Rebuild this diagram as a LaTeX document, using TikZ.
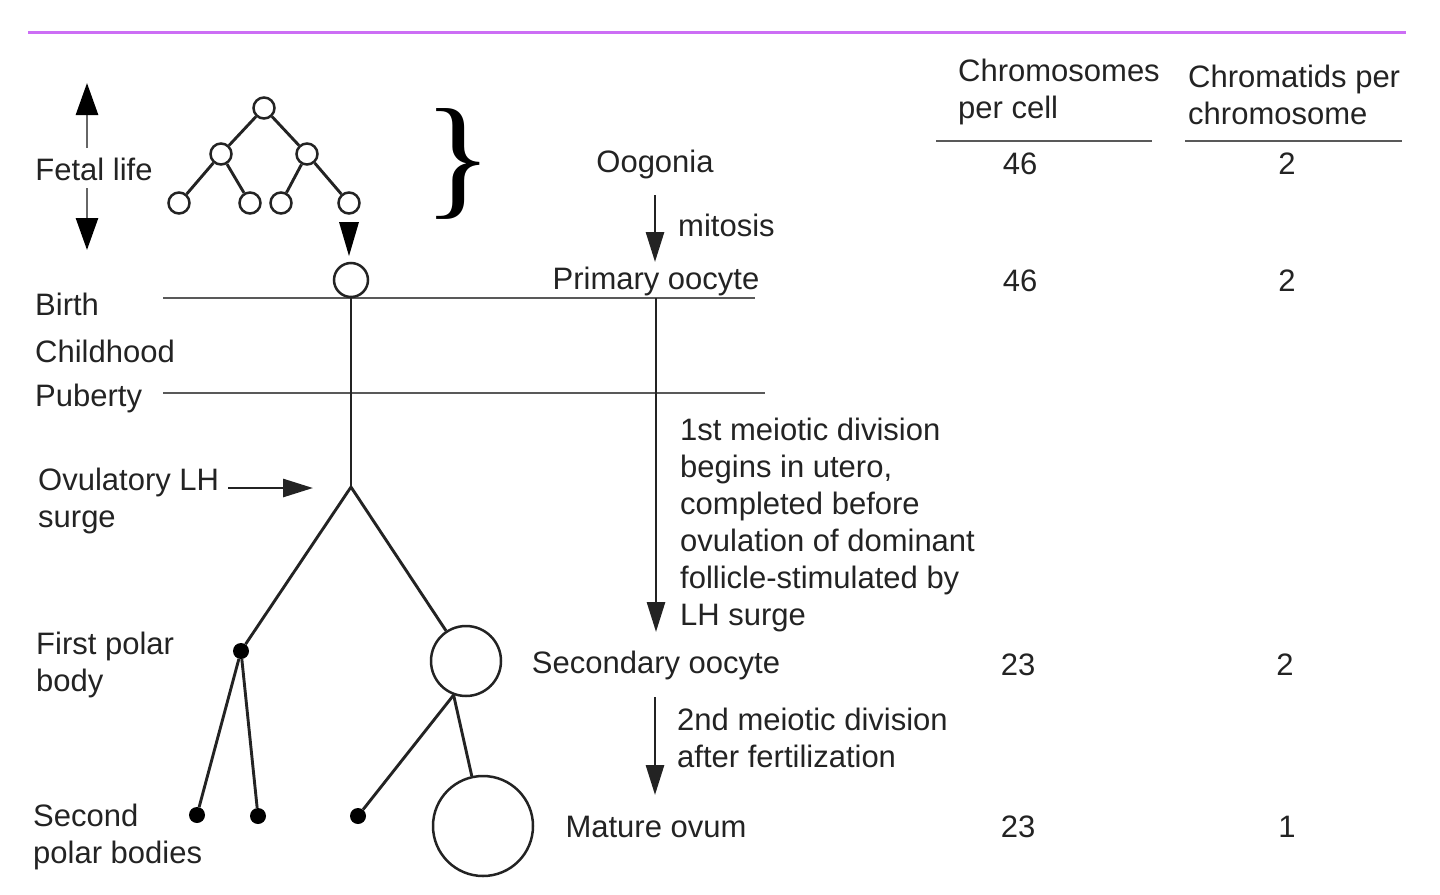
\documentclass[tikz,border=0pt]{standalone}
\usepackage{fontspec}
\setmainfont{Liberation Sans}
\newfontfamily\bracefont{Liberation Serif}
\usetikzlibrary{arrows.meta}
\definecolor{violetline}{RGB}{204,110,245}
\definecolor{ink}{RGB}{35,35,35}
\begin{document}
\begin{tikzpicture}[x=1pt,y=-1pt,
  txt/.style={font=\fontsize{31}{37}\selectfont, text=ink, inner sep=0pt, align=left},
  ln/.style={line width=2.9pt, draw=ink},
  hl/.style={line width=2.8pt, draw=black!65},
  cell/.style={circle, draw=ink, line width=2.5pt, inner sep=0pt, minimum size=#1},
  dot/.style={circle, fill=black, inner sep=0pt, minimum size=16pt},
  arr/.style={line width=2.8pt, draw=ink, -{Triangle[length=30pt,width=18pt]}},
  bigarr/.style={line width=2.8pt, draw=black!60, -{Triangle[length=32pt,width=22pt,fill=black,color=black]}},
]
\useasboundingbox (0,0) rectangle (1440,894);
\draw[line width=3pt, draw=violetline] (28,32) -- (1406,32);

% column headers
\node[txt, anchor=west] (h1) at (958,92) {Chromosomes\\per cell};
\node[txt, anchor=west] (h2) at (1188,95) {Chromatids per\\chromosome};
\coordinate (u1a) at (936,141); \coordinate (u1b) at (1152,141);
\coordinate (u2a) at (1185,141); \coordinate (u2b) at (1402,141);
\draw[hl] (u1a) -- (u1b);
\draw[hl] (u2a) -- (u2b);

% values
\node[txt] (v11) at (1020,164) {46};
\node[txt] (v12) at (1287,164) {2};
\node[txt] (v21) at (1020,281) {46};
\node[txt] (v22) at (1287,281) {2};
\node[txt] (v31) at (1018,665) {23};
\node[txt] (v32) at (1285,665) {2};
\node[txt] (v41) at (1018,827) {23};
\node[txt] (v42) at (1287,827) {1};

% left labels
\node[txt] (fl) at (94,169) {Fetal life};
\coordinate (fu0) at (87,148); \coordinate (fu1) at (87,83);
\coordinate (fd0) at (87,188); \coordinate (fd1) at (87,250);
\draw[bigarr] (fu0) -- (fu1);
\draw[bigarr] (fd0) -- (fd1);
\node[txt, anchor=west] (birth) at (35,304) {Birth};
\node[txt, anchor=west] (child) at (35,351) {Childhood};
\node[txt, anchor=west] (pub) at (35,398) {Puberty};
\node[txt, anchor=west] (lh) at (38,501) {Ovulatory LH\\surge};
\node[txt, anchor=west] (fpbl) at (36,665) {First polar\\body};
\node[txt, anchor=west] (spbl) at (33,837) {Second\\polar bodies};

% fetal tree
\node[cell=21pt] (t1) at (264,108) {};
\node[cell=21pt] (t2a) at (221,154) {};
\node[cell=21pt] (t2b) at (307,154) {};
\node[cell=21pt] (t3a) at (179,203) {};
\node[cell=21pt] (t3b) at (250,203) {};
\node[cell=21pt] (t3c) at (281,203) {};
\node[cell=21pt] (t3d) at (349,203) {};
\draw[ln] (t1) -- (t2a); \draw[ln] (t1) -- (t2b);
\draw[ln] (t2a) -- (t3a); \draw[ln] (t2a) -- (t3b);
\draw[ln] (t2b) -- (t3c); \draw[ln] (t2b) -- (t3d);
\fill[black] (339,222) -- (359,222) -- (349,256) -- cycle;

% brace
\node[inner sep=0pt, font=\bracefont\fontsize{134}{134}\selectfont, xscale=1.08] (brace) at (458,164) {\}};

% timeline lines
\coordinate (b0) at (163,298); \coordinate (b1) at (755,298);
\coordinate (p0) at (163,393); \coordinate (p1) at (765,393);
\draw[hl] (b0) -- (b1);
\draw[hl] (p0) -- (p1);

% cells
\node[cell=34pt] (po) at (351,280) {};
\coordinate (br) at (351,487);
\draw[ln] (po) -- (br);
\node[dot] (fpb) at (241,651) {};
\node[cell=70pt] (so) at (466,661) {};
\draw[ln] (br) -- (fpb);
\draw[ln] (br) -- (so);
\node[dot] (sp1) at (197,815) {};
\node[dot] (sp2) at (258,816) {};
\node[dot] (sp3) at (358,816) {};
\node[cell=100pt] (mo) at (483,826) {};
\draw[ln] (fpb) -- (sp1);
\draw[ln] (fpb) -- (sp2);
\draw[ln] (so.250) -- (sp3);
\draw[ln] (so.250) -- (mo);

% LH arrow
\coordinate (lh0) at (228,488); \coordinate (lh1) at (313,488);
\draw[arr] (lh0) -- (lh1);

% central column
\node[txt] (oog) at (655,164) {Oogonia};
\node[txt] (prim) at (656,281) {Primary oocyte};
\node[txt] (sec) at (656,665) {Secondary oocyte};
\node[txt] (mat) at (656,827) {Mature ovum};
\coordinate (m0) at (655,195); \coordinate (m1) at (655,262);
\draw[arr] (m0) -- (m1);
\node[txt, anchor=west] (mit) at (678,225) {mitosis};
\coordinate (a0) at (656,298); \coordinate (a1) at (656,632);
\draw[arr] (a0) -- (a1);
\node[txt, anchor=west] (mei1) at (680,525) {1st meiotic division\\begins in utero,\\completed before\\ovulation of dominant\\follicle-stimulated by\\LH surge};
\coordinate (c0) at (655,697); \coordinate (c1) at (655,795);
\draw[arr] (c0) -- (c1);
\node[txt, anchor=west] (mei2) at (677,738) {2nd meiotic division\\after fertilization};
\end{tikzpicture}
\end{document}
